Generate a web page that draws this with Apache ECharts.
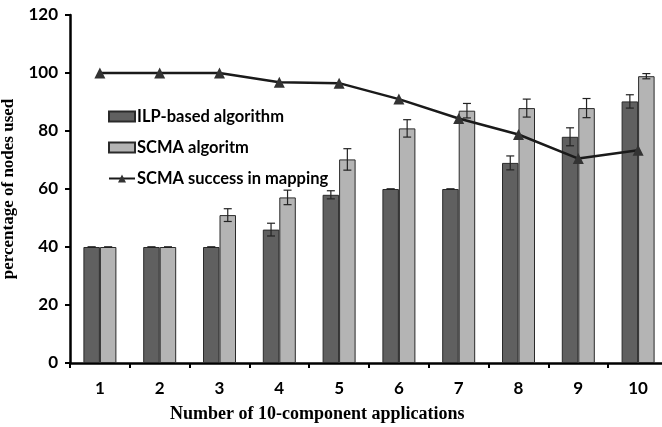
<!DOCTYPE html>
<html>
<head>
<meta charset="utf-8">
<script src="https://cdn.jsdelivr.net/npm/echarts@6/dist/echarts.min.js"></script>
<style>html,body{margin:0;padding:0;background:#fff}#c{width:662px;height:427px}</style>
</head>
<body>
<div id="c"></div>
<script>
const categories = ['1','2','3','4','5','6','7','8','9','10'];
const ilpValues = [40, 40, 40, 46, 58, 60, 60, 69, 78, 90.2];
const ilpErrors = [0, 0, 0, 2.2, 1.4, 0, 0, 2.4, 3.1, 2.3];
const scmaValues = [40, 40, 51, 57.1, 70.2, 80.9, 87, 87.9, 87.9, 98.9];
const scmaErrors = [0, 0, 2.2, 2.5, 3.7, 3, 2.5, 3.1, 3.3, 0.9];
const successValues = [100, 100, 100, 96.8, 96.5, 91, 84.3, 78.8, 70.5, 73.4];
const yTicks = [0, 20, 40, 60, 80, 100, 120];

const BAR_W = 16.5;
const FONT = 'Lato';

function errData(vals, errs) {
  return vals.map((v, i) => [i, v - errs[i], v + errs[i]]);
}
function errRender(offset) {
  return function (params, api) {
    const i = api.value(0);
    const top = api.coord([i, api.value(2)]);
    const bot = api.coord([i, api.value(1)]);
    const cx = top[0] + offset;
    const cap = 4;
    const st = { stroke: '#222', lineWidth: 1.2 };
    return {
      type: 'group',
      children: [
        { type: 'line', shape: { x1: cx, y1: top[1], x2: cx, y2: bot[1] }, style: st },
        { type: 'line', shape: { x1: cx - cap, y1: top[1], x2: cx + cap, y2: top[1] }, style: st },
        { type: 'line', shape: { x1: cx - cap, y1: bot[1], x2: cx + cap, y2: bot[1] }, style: st }
      ]
    };
  };
}

const chart = echarts.init(document.getElementById('c'), null, { renderer: 'canvas' });
chart.setOption({
  animation: false,
  backgroundColor: '#fff',
  grid: { left: 70, top: 15, right: -6, bottom: 64, containLabel: false, outerBoundsMode: 'none' },
  legend: {
    orient: 'vertical',
    left: 103,
    top: 103,
    itemWidth: 26,
    itemHeight: 10,
    itemGap: 14,
    textStyle: { fontFamily: FONT, fontWeight: 'bold', fontSize: 16.5, color: '#000', padding: [0, 0, 0, -3] },
    data: [
      { name: 'ILP-based algorithm', icon: 'rect' },
      { name: 'SCMA algoritm', icon: 'rect' },
      { name: 'SCMA success in mapping' }
    ]
  },
  xAxis: {
    type: 'category',
    data: categories,
    boundaryGap: true,
    axisLine: { lineStyle: { color: '#000', width: 2.5 } },
    axisTick: { show: true, length: 5, inside: false, lineStyle: { color: '#000', width: 2 } },
    axisLabel: { fontFamily: FONT, fontWeight: 'bold', fontSize: 17, color: '#000', margin: 17 },
    splitLine: { show: false }
  },
  yAxis: {
    type: 'value',
    min: yTicks[0],
    max: yTicks[yTicks.length - 1],
    interval: 20,
    name: 'percentage of nodes used',
    nameLocation: 'middle',
    nameGap: 47,
    nameTextStyle: { fontFamily: 'Liberation Serif', fontWeight: 'bold', fontSize: 17, color: '#000' },
    axisLine: { show: true, lineStyle: { color: '#000', width: 2.5 } },
    axisTick: { show: true, length: 5, inside: false, lineStyle: { color: '#000', width: 2 } },
    axisLabel: { fontFamily: FONT, fontWeight: 'bold', fontSize: 17, color: '#000', margin: 12 },
    splitLine: { show: false }
  },
  graphic: [{
    type: 'text',
    left: 170,
    top: 405,
    style: { text: 'Number of 10-component applications', font: 'bold 18px "Liberation Serif"', fill: '#000' }
  }],
  series: [
    {
      name: 'ILP-based algorithm',
      type: 'bar',
      data: ilpValues,
      barWidth: BAR_W,
      barGap: '0%',
      itemStyle: { color: '#606060', borderColor: '#2a2a2a', borderWidth: 1 },
      z: 2
    },
    {
      name: 'SCMA algoritm',
      type: 'bar',
      data: scmaValues,
      barWidth: BAR_W,
      barGap: '0%',
      itemStyle: { color: '#b4b4b4', borderColor: '#2a2a2a', borderWidth: 1 },
      z: 2
    },
    {
      type: 'custom',
      data: errData(ilpValues, ilpErrors),
      renderItem: errRender(-BAR_W / 2),
      encode: { x: 0, y: [1, 2] },
      z: 3,
      silent: true
    },
    {
      type: 'custom',
      data: errData(scmaValues, scmaErrors),
      renderItem: errRender(BAR_W / 2),
      encode: { x: 0, y: [1, 2] },
      z: 3,
      silent: true
    },
    {
      name: 'SCMA success in mapping',
      type: 'line',
      data: successValues,
      symbol: 'triangle',
      symbolSize: 11,
      lineStyle: { color: '#1a1a1a', width: 2.5 },
      itemStyle: { color: '#333' },
      z: 5
    }
  ]
});
</script>
</body>
</html>
